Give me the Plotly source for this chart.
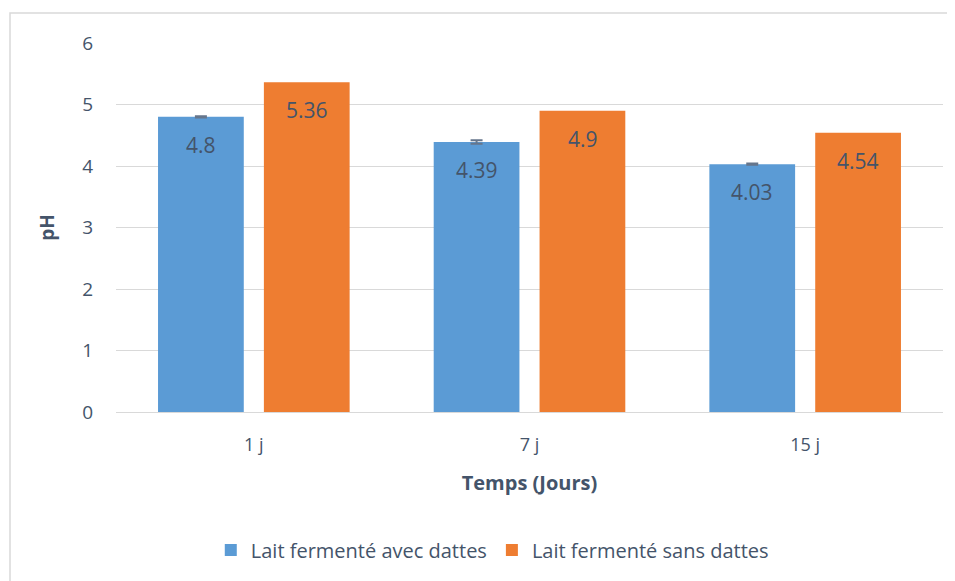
import plotly.graph_objects as go

categories = ["1 j", "7 j", "15 j"]
avec_dattes = [4.8, 4.39, 4.03]
avec_err = [0.01, 0.03, 0.01]
sans_dattes = [5.36, 4.9, 4.54]
series_names = ["Lait fermenté avec dattes", "Lait fermenté sans dattes"]
y_ticks = [0, 1, 2, 3, 4, 5, 6]

TXT = "#44546A"
FONT = "'Open Sans', Lato, sans-serif"

# the page body has an 8px margin; build the figure 8px smaller and shifted
W, H = 947, 573
L, T = 108, 35          # plot area left / top (figure coords)
PR, PB = 935, 404       # plot area right / bottom
pw, ph = PR - L, PB - T

fig = go.Figure()
fig.add_trace(go.Bar(
    x=categories, y=avec_dattes, name=series_names[0],
    marker=dict(color="#5B9BD5", line=dict(width=0)),
    error_y=dict(type="data", array=avec_err, visible=True,
                 color="#66768C", thickness=2, width=6),
))
fig.add_trace(go.Bar(
    x=categories, y=sans_dattes, name=series_names[1],
    marker=dict(color="#EE7D31", line=dict(width=0)),
))

# value labels inside bars near the top
for i, c in enumerate(categories):
    for v, off in ((avec_dattes[i], -0.5), (sans_dattes[i], 0.5)):
        fig.add_annotation(
            x=c, y=v, text=str(v), showarrow=False,
            xshift=off * 106, yshift=-28,
            font=dict(size=21, color=TXT, family=FONT),
        )

fig.update_layout(
    width=W, height=H,
    margin=dict(l=L, r=W - PR, t=T, b=H - PB),
    paper_bgcolor="white", plot_bgcolor="white",
    barmode="group", bargap=0.232, bargroupgap=0.19,
    font=dict(family=FONT, color=TXT, size=18),
    showlegend=True,
    legend=dict(orientation="h", x=0.455, xanchor="center",
                y=-138 / ph, yanchor="middle",
                font=dict(size=20, color=TXT), traceorder="normal",
                itemwidth=30),
    xaxis=dict(
        tickfont=dict(size=18, color=TXT),
        title=dict(text="<b>Temps (Jours)</b>", font=dict(size=20, color=TXT), standoff=20),
        showline=False, ticks="", showgrid=False, ticklabelstandoff=20,
    ),
    yaxis=dict(
        range=[0, 6], tickvals=y_ticks,
        tickfont=dict(size=19, color=TXT),
        title=dict(text="<b>pH</b>", font=dict(size=19, color=TXT), standoff=22),
        showgrid=True, gridcolor="#D9D9D9", gridwidth=1,
        zeroline=True, zerolinecolor="#D9D9D9", zerolinewidth=1,
        ticks="", ticklabelstandoff=22,
    ),
    shapes=[dict(type="rect", xref="paper", yref="paper",
                 x0=(2 - L) / pw, x1=(W - 1 - L) / pw,
                 y0=-(H + 5 - PB) / ph, y1=1 + (T - 5) / ph,
                 line=dict(color="#D9D9D9", width=1.5), fillcolor="rgba(0,0,0,0)",
                 layer="below")],
)

fig.write_html("out.html")
